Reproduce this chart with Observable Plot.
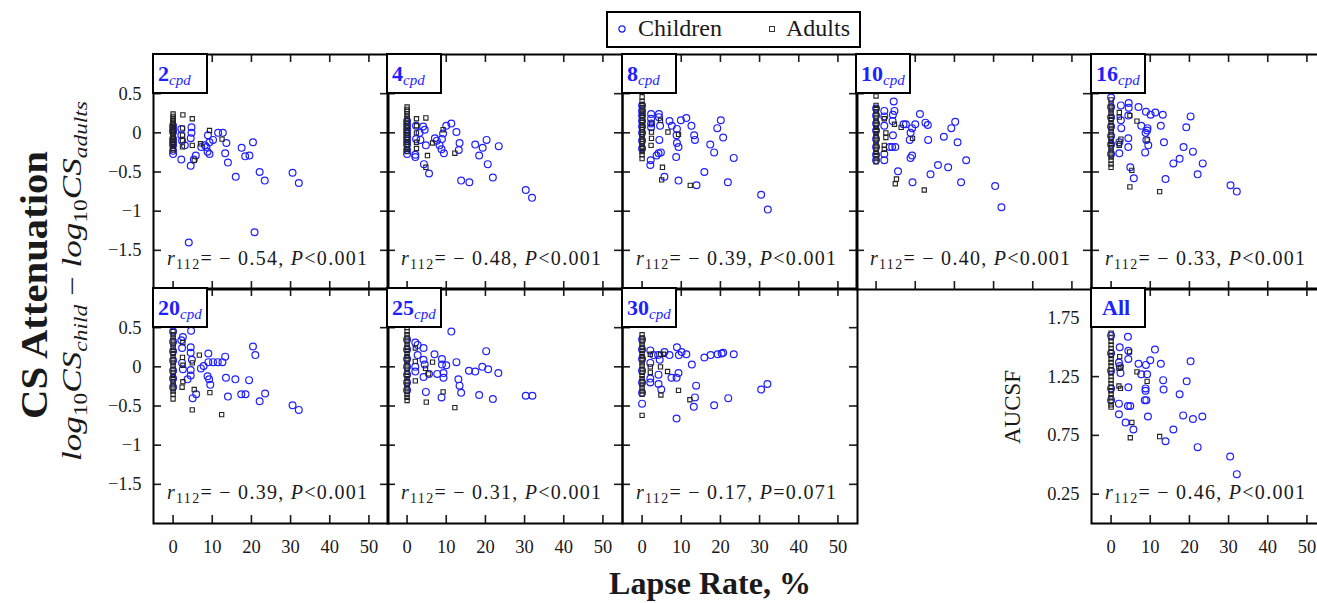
<!DOCTYPE html>
<html><head><meta charset="utf-8">
<script src="https://cdn.jsdelivr.net/npm/d3@7"></script>
<script src="https://cdn.jsdelivr.net/npm/@observablehq/plot@0.6"></script>
<style>
html,body{margin:0;padding:0;overflow:hidden;background:#fff;}
#fig{position:relative;width:1317px;height:603px;overflow:hidden;font-family:"Liberation Serif",serif;background:#fff;}
</style></head><body><div id="fig"></div>
<script>
// ---------- data ----------
const panelNames = ["2","4","8","10","16","20","25","30","All"];
const rValues = [-0.54,-0.48,-0.39,-0.40,-0.33,-0.39,-0.31,-0.17,-0.46];
const pValues = ["<0.001","<0.001","<0.001","<0.001","<0.001","<0.001","<0.001","=0.071","<0.001"];
const xTicks = [0,10,20,30,40,50];
const csTicks = [0.5,0,-0.5,-1,-1.5];
const aucTicks = [0.25,0.75,1.25,1.75];

const kids2 = [[4.0,-1.40],[20.8,-1.27],[30.5,-0.51],[32.1,-0.64],[22.1,-0.50],[23.4,-0.61],[16.0,-0.56],[20.4,-0.12],[17.5,-0.19],[18.4,-0.30],[19.5,-0.29],[14.0,-0.38],[13.3,-0.26],[13.6,-0.13],[12.7,0.0],[11.5,0.0],[10.2,-0.09],[9.3,-0.12],[8.9,-0.03],[9.3,-0.27],[8.8,-0.24],[8.1,-0.16],[7.2,-0.18],[8.5,-0.18],[5.8,-0.29],[4.5,-0.42],[5.3,-0.34],[4.7,0.07],[4.7,0.0],[4.5,-0.07],[2.1,-0.34],[2.1,0.05],[2.1,-0.03],[3.0,-0.16],[2.3,-0.10],[0,-0.27],[0,-0.23],[0,-0.16],[0,-0.08],[0,0.01],[0,0.09],[0,-0.12],[0,0.04]];
const adults2 = [[0,0.24],[0,0.21],[0,0.18],[0,0.16],[0,0.14],[0,0.12],[0,0.10],[0,0.08],[0,0.06],[0,0.04],[0,0.02],[0,0.0],[0,-0.02],[0,-0.04],[0,-0.06],[0,-0.08],[0,-0.10],[0,-0.12],[0,-0.14],[0,-0.17],[0,-0.20],[0,-0.22],[2.5,0.23],[4.9,0.18],[2.4,0.06],[9.3,0.03],[12.5,-0.08],[2.4,-0.03],[2.4,-0.10],[2.4,-0.18],[4.9,-0.16],[7.0,-0.14],[5.4,-0.35]];

const kids4 = [[31.9,-0.83],[30.3,-0.73],[21.9,-0.57],[20.6,-0.40],[18.4,-0.29],[17.4,-0.15],[19.3,-0.19],[20.3,-0.09],[23.4,-0.17],[13.8,-0.61],[15.9,-0.63],[12.6,0.01],[11.3,0.12],[10.0,0.09],[9.2,-0.01],[8.9,-0.08],[13.4,-0.13],[13.2,-0.22],[9.4,-0.26],[8.8,-0.21],[7.1,-0.07],[7.6,-0.10],[8.3,-0.16],[5.6,-0.52],[4.3,-0.40],[4.8,-0.16],[4.5,0.04],[4.1,0.08],[3.2,0.0],[2.3,0.09],[2.1,-0.31],[2.1,-0.28],[2.3,-0.08],[3.4,-0.09],[0,0.15],[0,0.10],[0,0.05],[0,0.0],[0,-0.05],[0,-0.10],[0,-0.15],[0,-0.22],[0,-0.27]];
const adults4 = [[0,0.33],[0,0.30],[0,0.27],[0,0.24],[0,0.21],[0,0.18],[0,0.15],[0,0.12],[0,0.09],[0,0.06],[0,0.03],[0,0.0],[0,-0.03],[0,-0.06],[0,-0.09],[0,-0.12],[0,-0.15],[0,-0.18],[0,-0.21],[0,-0.24],[2.4,0.18],[4.8,0.19],[2.4,0.09],[2.4,0.0],[2.4,-0.12],[2.4,-0.20],[5.2,-0.29],[4.8,-0.44],[6.5,-0.13],[9.2,0.04],[12.2,-0.26]];

const kids8 = [[32.1,-0.98],[30.4,-0.79],[21.9,-0.63],[23.4,-0.32],[20.7,-0.06],[20.1,0.16],[19.2,0.06],[18.4,-0.25],[17.4,-0.15],[15.9,-0.50],[13.9,-0.67],[13.5,-0.09],[13.3,-0.03],[12.6,0.09],[11.3,0.19],[9.9,0.16],[9.3,-0.61],[9.3,-0.18],[8.9,-0.13],[8.7,-0.31],[8.8,-0.03],[8.9,0.05],[7.6,0.09],[7.0,0.15],[5.7,-0.56],[4.8,-0.25],[4.2,-0.26],[3.7,-0.29],[4.4,-0.09],[4.6,0.09],[4.3,0.24],[4.3,0.20],[2.2,-0.35],[2.1,-0.41],[2.3,0.24],[2.3,0.18],[2.3,0.07],[2.3,0.12],[0,0.35],[0,0.28],[0,0.22],[0,0.15],[0,0.08],[0,0.0],[0,-0.10],[0,-0.20]];
const adults8 = [[0,0.46],[0,0.40],[0,0.36],[0,0.32],[0,0.28],[0,0.25],[0,0.22],[0,0.19],[0,0.16],[0,0.13],[0,0.10],[0,0.07],[0,0.04],[0,0.01],[0,-0.02],[0,-0.05],[0,-0.08],[0,-0.11],[0,-0.14],[0,-0.17],[0,-0.20],[0,-0.24],[0,-0.28],[0,-0.33],[4.7,0.16],[2.4,0.12],[2.4,0.01],[2.4,-0.07],[2.3,-0.16],[6.6,0.01],[9.3,-0.02],[5.2,-0.44],[5.0,-0.60],[12.3,-0.67]];

const kids10 = [[32.0,-0.95],[30.4,-0.68],[21.7,-0.63],[23.0,-0.35],[20.8,-0.12],[20.2,0.14],[19.2,0.06],[18.4,-0.44],[17.3,-0.05],[15.8,-0.41],[13.9,-0.53],[13.3,-0.09],[13.2,0.10],[12.6,0.13],[11.2,0.24],[10.0,0.11],[9.3,-0.63],[9.2,-0.29],[8.8,-0.32],[8.6,-0.09],[8.8,0.0],[9.2,0.06],[7.6,0.11],[7.0,0.11],[5.6,-0.49],[4.5,0.40],[4.7,0.28],[4.3,0.23],[4.2,0.15],[4.3,-0.03],[4.9,-0.18],[4.1,-0.18],[3.5,-0.18],[2.1,-0.35],[2.1,-0.27],[2.1,0.28],[2.1,0.21],[2.1,0.09],[0,0.31],[0,0.22],[0,0.12],[0,0.03],[0,-0.08],[0,-0.18],[0,-0.28],[0,-0.35]];
const adults10 = [[0,0.47],[0,0.35],[0,0.31],[0,0.27],[0,0.23],[0,0.19],[0,0.15],[0,0.11],[0,0.07],[0,0.03],[0,-0.01],[0,-0.05],[0,-0.09],[0,-0.13],[0,-0.17],[0,-0.21],[0,-0.25],[0,-0.29],[0,-0.33],[0,-0.37],[2.1,0.18],[4.7,0.11],[6.4,0.07],[2.5,0.0],[2.5,-0.06],[2.1,-0.16],[2.1,-0.21],[9.3,-0.07],[5.2,-0.59],[4.9,-0.65],[12.3,-0.73]];

const kids16 = [[32.1,-0.75],[30.5,-0.67],[22.1,-0.53],[23.4,-0.39],[20.9,-0.24],[20.3,0.21],[19.2,0.07],[18.5,-0.18],[17.5,-0.33],[15.9,-0.39],[13.9,-0.59],[13.5,-0.12],[13.2,0.23],[12.7,0.09],[11.3,0.26],[10.1,0.23],[8.9,0.27],[9.3,0.06],[9.2,0.03],[8.8,0.0],[9.5,-0.16],[8.7,-0.25],[9.0,-0.09],[7.7,0.09],[7.0,0.33],[5.8,-0.58],[4.9,-0.44],[4.4,-0.18],[4.4,-0.07],[4.4,0.22],[4.5,0.32],[4.5,0.38],[2.5,0.35],[2.5,0.16],[2.6,0.06],[2.1,-0.26],[2.1,-0.12],[0,0.45],[0,0.33],[0,0.20],[0,0.08],[0,-0.04],[0,-0.15],[0,-0.27]];
const adults16 = [[0,0.42],[0,0.37],[0,0.33],[0,0.29],[0,0.25],[0,0.21],[0,0.17],[0,0.13],[0,0.09],[0,0.05],[0,0.01],[0,-0.03],[0,-0.07],[0,-0.11],[0,-0.15],[0,-0.19],[0,-0.23],[0,-0.27],[0,-0.31],[0,-0.35],[0,-0.40],[0,-0.44],[2.1,0.26],[2.1,0.20],[4.8,0.22],[6.6,0.15],[2.5,-0.08],[2.1,-0.14],[2.1,-0.16],[9.2,-0.09],[5.3,-0.48],[4.8,-0.69],[12.4,-0.75]];

const kids20 = [[32.1,-0.55],[30.5,-0.49],[22.1,-0.44],[23.5,-0.34],[20.4,0.26],[21.0,0.15],[19.4,-0.17],[18.5,-0.35],[17.4,-0.35],[15.9,-0.16],[14.0,-0.38],[13.5,-0.14],[13.3,0.13],[12.6,0.06],[11.4,0.06],[10.2,0.06],[9.0,0.17],[9.0,0.06],[8.8,-0.12],[9.2,-0.16],[9.5,-0.23],[7.8,0.01],[7.1,-0.02],[5.9,-0.35],[5.0,-0.40],[4.5,-0.11],[4.5,-0.04],[4.8,0.09],[4.5,0.25],[4.5,0.18],[4.6,0.46],[3.7,-0.16],[2.5,0.38],[2.1,0.34],[2.3,0.24],[2.5,-0.03],[2.3,0.05],[0,0.45],[0,0.32],[0,0.20],[0,0.08],[0,-0.05],[0,-0.15],[0,-0.26]];
const adults20 = [[0,0.45],[0,0.41],[0,0.37],[0,0.33],[0,0.29],[0,0.25],[0,0.21],[0,0.17],[0,0.13],[0,0.09],[0,0.05],[0,0.01],[0,-0.03],[0,-0.07],[0,-0.11],[0,-0.15],[0,-0.19],[0,-0.23],[0,-0.27],[0,-0.31],[0,-0.35],[0,-0.41],[2.5,0.31],[2.4,0.12],[2.5,0.02],[4.9,0.05],[6.7,0.15],[2.5,-0.19],[2.3,-0.26],[5.4,-0.29],[9.4,-0.33],[4.9,-0.55],[12.4,-0.61]];

const kids25 = [[32.0,-0.37],[30.3,-0.37],[21.9,-0.41],[23.3,-0.08],[20.2,0.20],[20.7,-0.03],[19.2,0.0],[18.4,-0.36],[17.4,-0.06],[15.8,-0.05],[13.8,-0.33],[13.4,-0.24],[13.1,-0.16],[12.6,0.06],[11.3,0.45],[10.0,0.02],[9.3,-0.08],[9.3,-0.14],[8.8,-0.39],[8.9,0.03],[8.9,0.10],[7.7,-0.09],[7.0,0.16],[5.6,-0.09],[4.8,-0.32],[4.2,-0.13],[4.5,0.03],[4.2,0.09],[4.2,0.24],[2.7,0.28],[2.1,0.31],[2.7,0.15],[2.1,0.0],[2.1,-0.06],[0,0.35],[0,0.22],[0,0.10],[0,0.0],[0,-0.10],[0,-0.20],[0,-0.30]];
const adults25 = [[0,0.50],[0,0.45],[0,0.41],[0,0.37],[0,0.33],[0,0.29],[0,0.25],[0,0.21],[0,0.17],[0,0.13],[0,0.09],[0,0.05],[0,0.01],[0,-0.03],[0,-0.07],[0,-0.11],[0,-0.15],[0,-0.19],[0,-0.23],[0,-0.27],[0,-0.31],[0,-0.35],[0,-0.39],[0,-0.43],[2.1,0.24],[2.1,0.07],[6.5,0.06],[4.7,-0.02],[5.5,-0.09],[2.1,-0.18],[9.2,-0.32],[4.9,-0.45],[12.2,-0.52]];

const kids30 = [[32.0,-0.22],[30.4,-0.29],[22.0,-0.40],[23.4,0.16],[20.7,0.18],[20.3,0.17],[19.3,0.16],[17.5,0.15],[15.9,0.12],[18.4,-0.49],[13.8,-0.24],[13.5,-0.39],[13.2,-0.51],[12.7,0.03],[11.3,0.16],[10.1,0.19],[9.4,0.15],[8.9,0.25],[8.8,-0.66],[9.3,-0.08],[8.8,-0.14],[7.5,-0.14],[5.7,0.19],[7.0,0.15],[4.9,-0.29],[4.2,-0.22],[4.2,-0.10],[4.5,0.09],[4.1,0.15],[2.1,-0.20],[2.1,-0.15],[2.1,0.05],[2.1,0.21],[2.9,0.15],[0,-0.47],[0,0.35],[0,0.22],[0,0.10],[0,-0.05],[0,-0.20],[0,-0.33]];
const adults30 = [[0,0.41],[0,0.37],[0,0.33],[0,0.29],[0,0.25],[0,0.21],[0,0.17],[0,0.13],[0,0.09],[0,0.05],[0,0.01],[0,-0.03],[0,-0.07],[0,-0.11],[0,-0.15],[0,-0.19],[0,-0.23],[0,-0.27],[0,-0.31],[0,-0.35],[0,-0.62],[2.1,0.16],[4.7,0.16],[5.5,0.16],[2.1,0.0],[4.7,0.0],[6.5,-0.06],[2.1,-0.07],[4.8,-0.36],[9.3,-0.30],[12.2,-0.42]];

const kidsAll = [[32.1,0.42],[30.4,0.57],[22.1,0.65],[23.3,0.91],[20.9,0.89],[20.3,1.38],[19.3,1.21],[18.4,0.92],[17.5,1.10],[15.9,0.80],[13.9,0.70],[13.4,1.14],[13.3,1.22],[12.7,1.36],[11.2,1.48],[10.0,1.39],[9.4,0.91],[9.0,1.05],[8.6,1.05],[8.8,1.13],[8.8,1.15],[9.2,1.27],[8.9,1.35],[7.7,1.27],[7.0,1.36],[5.7,0.80],[4.9,1.00],[4.3,1.00],[3.7,0.86],[4.4,1.16],[4.4,1.40],[4.4,1.47],[4.3,1.59],[2.0,1.02],[2.0,0.93],[2.4,1.28],[2.2,1.34],[2.0,1.37],[2.2,1.50],[0,1.60],[0,1.45],[0,1.30],[0,1.15],[0,1.05]];
const adultsAll = [[0,1.62],[0,1.58],[0,1.55],[0,1.52],[0,1.49],[0,1.46],[0,1.43],[0,1.40],[0,1.37],[0,1.34],[0,1.31],[0,1.28],[0,1.25],[0,1.22],[0,1.19],[0,1.16],[0,1.13],[0,1.10],[0,1.07],[0,1.04],[0,1.01],[0,0.99],[2.2,1.42],[4.7,1.46],[2.0,1.32],[2.5,1.33],[6.6,1.29],[9.2,1.21],[2.0,1.17],[2.4,1.15],[5.3,0.86],[4.9,0.73],[12.4,0.74]];

const kidsList = [kids2,kids4,kids8,kids10,kids16,kids20,kids25,kids30,kidsAll];
const adultsList = [adults2,adults4,adults8,adults10,adults16,adults20,adults25,adults30,adultsAll];

// ---------- layout ----------
const BLUE = "#1f1fff", INK = "#1a1a1a";
const S = 235;
const colLeft = [153, 387, 622, 856, 1091];
const rowTop = [54, 288];
const slots = [[0,0],[0,1],[0,2],[0,3],[0,4],[1,0],[1,1],[1,2],[1,4]];
const minus = d => d < 0 ? "\u2212" + Math.abs(d) : String(d);

const fig = document.getElementById("fig");

panelNames.forEach((name, i) => {
  const [row, col] = slots[i];
  const isAll = name === "All";
  const yTicks = isAll ? aucTicks : csTicks;
  const yDomain = isAll ? [0, 2] : [-2, 1];
  const showY = col === 0 || isAll;
  const showX = row === 1;
  const svg = Plot.plot({
    width: S, height: S, margin: 0,
    style: {overflow: "visible", background: "transparent", fontFamily: "Liberation Serif", fontSize: "18.5px", color: INK},
    x: {domain: [-5, 55], ticks: xTicks, tickSize: 0, tickPadding: 16, axis: showX ? "bottom" : null, label: null},
    y: {domain: yDomain, ticks: yTicks, tickSize: 0, tickPadding: 12, tickFormat: minus, axis: showY ? "left" : null, label: null},
    marks: [
      Plot.tickX(xTicks, {x: d => d, insetBottom: S - 8, stroke: INK, strokeWidth: 1.6}),
      Plot.tickX(xTicks, {x: d => d, insetTop: S - 8, stroke: INK, strokeWidth: 1.6}),
      Plot.tickY(yTicks, {y: d => d, insetRight: S - 8, stroke: INK, strokeWidth: 1.6}),
      Plot.tickY(yTicks, {y: d => d, insetLeft: S - 8, stroke: INK, strokeWidth: 1.6}),
      Plot.dot(kidsList[i], {x: d => d[0], y: d => d[1], r: 3.4, stroke: BLUE, strokeWidth: 1.2, fill: "none"}),
      Plot.dot(adultsList[i], {x: d => d[0], y: d => d[1], symbol: "square", r: 2.4, stroke: "#222", strokeWidth: 1.1, fill: "none"}),
      Plot.frame({stroke: "black", strokeWidth: 2})
    ]
  });
  svg.style.position = "absolute";
  svg.style.left = colLeft[col] + "px";
  svg.style.top = rowTop[row] + "px";
  fig.appendChild(svg);

  const g = d3.select(svg).append("g").attr("text-anchor", "start");
  // panel label box
  g.append("rect").attr("x", 0).attr("y", 0).attr("width", 54).attr("height", 39)
    .attr("fill", "white").attr("stroke", "black").attr("stroke-width", 2);
  const lt = g.append("text").attr("x", isAll ? 11 : 5).attr("y", 27).attr("fill", BLUE)
    .attr("text-anchor", "start").style("font-family", "Liberation Serif");
  lt.append("tspan").attr("font-weight", "bold").attr("font-size", 22).text(name);
  if (!isAll) lt.append("tspan").attr("font-style", "italic").attr("font-size", 15).attr("dy", 4).text("cpd");
  // statistics
  const st = g.append("text").attr("x", 14).attr("y", 211).attr("font-size", 20).attr("fill", INK)
    .attr("text-anchor", "start").attr("textLength", 200).attr("lengthAdjust", "spacing")
    .style("font-family", "Liberation Serif");
  st.append("tspan").attr("font-style", "italic").text("r");
  st.append("tspan").attr("font-size", 14).attr("dy", 4).text("112");
  st.append("tspan").attr("dy", -4).text("= \u2212 " + Math.abs(rValues[i]).toFixed(2) + ", ");
  st.append("tspan").attr("font-style", "italic").text("P");
  st.append("tspan").text(pValues[i]);
});

// ---------- titles & legend ----------
const over = d3.select(fig).append("svg").attr("width", 1317).attr("height", 603)
  .style("position", "absolute").style("left", 0).style("top", 0)
  .style("font-family", "Liberation Serif").style("pointer-events", "none");

over.append("text").attr("transform", "translate(47,285) rotate(-90)").attr("text-anchor", "middle")
  .attr("font-weight", "bold").attr("font-size", 37).attr("fill", INK)
  .attr("textLength", 268).attr("lengthAdjust", "spacingAndGlyphs").text("CS Attenuation");

const sub = over.append("text").attr("transform", "translate(81,281) rotate(-90)").attr("text-anchor", "middle")
  .attr("font-size", 27).attr("fill", INK).attr("font-style", "italic")
  .attr("textLength", 360).attr("lengthAdjust", "spacingAndGlyphs");
sub.append("tspan").text("log");
sub.append("tspan").attr("font-size", 18).attr("dy", 6).attr("font-style", "normal").text("10");
sub.append("tspan").attr("dy", -6).text("CS");
sub.append("tspan").attr("font-size", 18).attr("dy", 6).text("child");
sub.append("tspan").attr("dy", -6).attr("font-style", "normal").text(" \u2212 ");
sub.append("tspan").text("log");
sub.append("tspan").attr("font-size", 18).attr("dy", 6).attr("font-style", "normal").text("10");
sub.append("tspan").attr("dy", -6).text("CS");
sub.append("tspan").attr("font-size", 18).attr("dy", 6).text("adults");

over.append("text").attr("transform", "translate(1020,407) rotate(-90)").attr("text-anchor", "middle")
  .attr("font-size", 23).attr("fill", INK).text("AUCSF");

over.append("text").attr("x", 710).attr("y", 594).attr("text-anchor", "middle")
  .attr("font-weight", "bold").attr("font-size", 32).attr("fill", INK).text("Lapse Rate, %");

// legend
over.append("rect").attr("x", 607).attr("y", 12).attr("width", 253).attr("height", 35)
  .attr("fill", "white").attr("stroke", "black").attr("stroke-width", 2);
over.append("circle").attr("cx", 622).attr("cy", 29).attr("r", 3.1).attr("fill", "none").attr("stroke", BLUE).attr("stroke-width", 1.2);
over.append("text").attr("x", 638).attr("y", 36).attr("font-size", 24).attr("fill", INK).text("Children");
over.append("rect").attr("x", 769.5).attr("y", 26.5).attr("width", 5).attr("height", 5).attr("fill", "none").attr("stroke", "#333").attr("stroke-width", 1);
over.append("text").attr("x", 786).attr("y", 36).attr("font-size", 24).attr("fill", INK).text("Adults");
</script></body></html>
